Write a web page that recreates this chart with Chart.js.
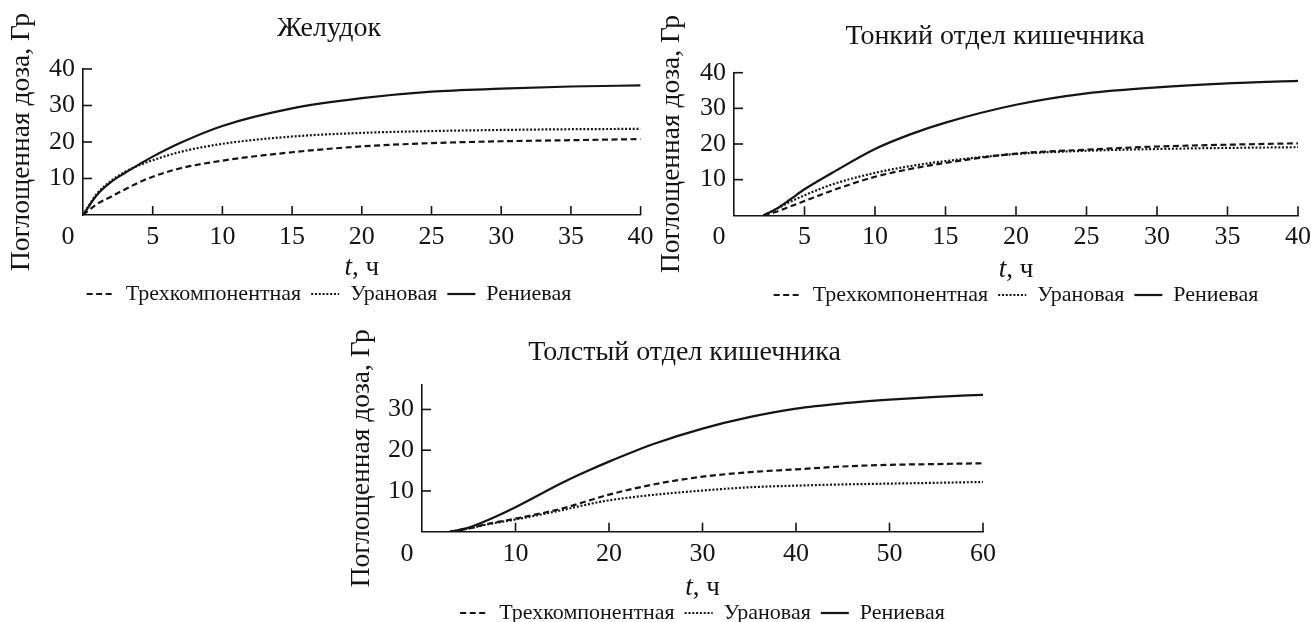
<!DOCTYPE html>
<html>
<head>
<meta charset="utf-8">
<script src="https://cdn.jsdelivr.net/npm/chart.js@4"></script>
<style>
  html, body { margin: 0; padding: 0; background: #fff; overflow: hidden; width: 1311px; height: 622px; }
  canvas { position: absolute; }
</style>
</head>
<body>
<canvas id="c1" width="660" height="320" style="left:0px;top:0px"></canvas>
<canvas id="c2" width="690" height="320" style="left:650px;top:0px"></canvas>
<canvas id="c3" width="700" height="330" style="left:340px;top:310px"></canvas>
<script>
// ---------- data ----------
const seriesNames = ['Трехкомпонентная', 'Урановая', 'Рениевая'];
const yAxisTitle = 'Поглощенная доза, Гр';

// Желудок
const stomachTitle = 'Желудок';
const stomachT   = [0, 1, 2, 3, 4, 5, 7, 10, 15, 20, 25, 30, 35, 40];
const stomachTri = [0, 3.0, 5.0, 7.0, 8.9, 10.5, 12.8, 14.9, 17.2, 18.8, 19.7, 20.2, 20.5, 20.8];
const stomachU   = [0, 5.8, 9.3, 11.8, 13.6, 15.0, 17.3, 19.5, 21.5, 22.5, 23.0, 23.3, 23.5, 23.6];
const stomachRe  = [0, 5.5, 9.0, 11.5, 13.8, 16.0, 19.8, 24.4, 29.2, 32.0, 33.8, 34.6, 35.2, 35.5];
const stomachXTicks = [0, 5, 10, 15, 20, 25, 30, 35, 40];
const stomachYTicks = [10, 20, 30, 40];

// Тонкий отдел кишечника
const smallTitle = 'Тонкий отдел кишечника';
const smallT   = [2.1, 3, 4, 5, 7, 10, 12.5, 15, 20, 25, 30, 35, 40];
const smallTri = [0, 1.0, 2.5, 4.0, 7.0, 10.8, 13.0, 14.7, 17.3, 18.4, 19.3, 19.8, 20.2];
const smallU   = [0, 1.8, 3.8, 5.6, 8.7, 11.9, 13.8, 15.2, 17.2, 18.1, 18.6, 18.9, 19.1];
const smallRe  = [0, 1.8, 4.5, 7.3, 12.0, 18.6, 22.7, 26.0, 31.0, 34.2, 35.9, 37.0, 37.7];
const smallXTicks = [0, 5, 10, 15, 20, 25, 30, 35, 40];
const smallYTicks = [10, 20, 30, 40];

// Толстый отдел кишечника
const largeTitle = 'Толстый отдел кишечника';
const largeT   = [3, 5, 7, 10, 15, 17.5, 20, 25, 30, 35, 40, 45, 50, 55, 60];
const largeTri = [0, 0.8, 1.9, 3.2, 5.7, 7.4, 9.1, 11.7, 13.5, 14.6, 15.3, 16.0, 16.4, 16.6, 16.8];
const largeU   = [0, 0.8, 1.8, 3.0, 5.3, 6.6, 7.7, 9.1, 10.1, 10.9, 11.3, 11.6, 11.8, 12.0, 12.2];
const largeRe  = [0, 1.0, 2.8, 6.0, 12.0, 14.7, 17.2, 21.7, 25.3, 28.1, 30.2, 31.5, 32.4, 33.1, 33.6];
const largeXTicks = [0, 10, 20, 30, 40, 50, 60];
const largeYTicks = [10, 20, 30];

// ---------- styling ----------
const FONT = "'Liberation Serif', 'Times New Roman', serif";
const INK = '#151515';
const TICK_FS = 26;

function pts(t, v) { return t.map((x, i) => ({ x: x, y: v[i] })); }

const decorPlugin = {
  id: 'decor',
  afterDraw(chart, args, opts) {
    const { ctx, chartArea } = chart;
    const xs = chart.scales.x, ys = chart.scales.y;
    ctx.save();
    ctx.strokeStyle = INK;
    ctx.lineWidth = 1.6;
    opts.xTicks.forEach(v => {
      if (v === 0) return;
      const px = xs.getPixelForValue(v);
      ctx.beginPath(); ctx.moveTo(px, chartArea.bottom); ctx.lineTo(px, chartArea.bottom - 9); ctx.stroke();
    });
    opts.yTicks.forEach(v => {
      const py = ys.getPixelForValue(v);
      ctx.beginPath(); ctx.moveTo(chartArea.left, py); ctx.lineTo(chartArea.left + 9, py); ctx.stroke();
    });
    ctx.fillStyle = INK;
    ctx.textBaseline = 'middle';
    ctx.textAlign = 'center';
    ctx.font = TICK_FS + 'px ' + FONT;
    ctx.fillText('0', xs.getPixelForValue(0) - 15, chartArea.bottom + 6.4 + TICK_FS * 0.6);
    // x axis title "t, ч" with italic t
    const cx = (chartArea.left + chartArea.right) / 2;
    const ty = chartArea.bottom + opts.xTitleOffset;
    ctx.textAlign = 'left';
    ctx.font = 'italic 27px ' + FONT;
    const w1 = ctx.measureText('t').width;
    ctx.font = '27px ' + FONT;
    const w2 = ctx.measureText(', ч').width;
    const x0 = cx - (w1 + w2) / 2;
    ctx.font = 'italic 27px ' + FONT;
    ctx.fillText('t', x0, ty);
    ctx.font = '27px ' + FONT;
    ctx.fillText(', ч', x0 + w1, ty);
    ctx.restore();
  }
};

function legendLabels(chart) {
  const items = Chart.defaults.plugins.legend.labels.generateLabels(chart);
  items.forEach(it => {
    const d = chart.data.datasets[it.datasetIndex];
    it.lineDash = d.borderDash;
    it.lineWidth = d.borderWidth;
    it.strokeStyle = d.borderColor;
    it.fillStyle = 'rgba(0,0,0,0)';
    it.pointStyle = 'line';
  });
  return items;
}

function makeChart(id, p) {
  const ds = [
    { label: seriesNames[0], data: pts(p.t, p.tri), borderDash: [6, 3.5] },
    { label: seriesNames[1], data: pts(p.t, p.u), borderDash: [2, 1.8] },
    { label: seriesNames[2], data: pts(p.t, p.re), borderDash: [] }
  ].map(d => Object.assign(d, {
    borderColor: INK, backgroundColor: 'rgba(0,0,0,0)', borderWidth: 2.2,
    pointRadius: 0, cubicInterpolationMode: 'monotone', fill: false
  }));
  return new Chart(document.getElementById(id), {
    type: 'line',
    data: { datasets: ds },
    plugins: [decorPlugin],
    options: {
      responsive: false, animation: false, devicePixelRatio: 1,
      layout: { padding: { left: p.padLeft, right: p.padRight, top: 0, bottom: p.padBottom } },
      plugins: {
        tooltip: { enabled: false },
        title: {
          display: true, text: p.title, color: INK,
          font: { family: FONT, size: 28, weight: 'normal' },
          padding: { top: p.titleTop, bottom: p.titleBottom }
        },
        legend: {
          display: true, position: 'bottom', fullSize: p.legendFull,
          labels: {
            color: INK, font: { family: FONT, size: 22 },
            usePointStyle: true, pointStyle: 'line', pointStyleWidth: 28,
            padding: 10, generateLabels: legendLabels
          }
        },
        decor: { xTicks: p.xTicks, yTicks: p.yTicks, xTitleOffset: p.xTitleOffset }
      },
      scales: {
        x: {
          type: 'linear', min: p.xTicks[0], max: p.xTicks[p.xTicks.length - 1],
          afterBuildTicks: (s) => { s.ticks = p.xTicks.map(v => ({ value: v })); },
          afterFit: (s) => { s.height = p.xHeight; },
          grid: { display: false, drawTicks: false },
          border: { display: true, color: INK, width: 1.6 },
          ticks: {
            color: INK, font: { family: FONT, size: TICK_FS }, padding: 6.4, maxRotation: 0,
            callback: (v) => v === 0 ? '' : String(v)
          },
          title: { display: false }
        },
        y: {
          type: 'linear', min: 0, max: p.yMax,
          afterBuildTicks: (s) => { s.ticks = [0].concat(p.yTicks).map(v => ({ value: v })); },
          afterFit: (s) => { s.width = p.yWidth; },
          grid: { display: false, drawTicks: false },
          border: { display: true, color: INK, width: 1.6 },
          ticks: {
            color: INK, font: { family: FONT, size: TICK_FS }, padding: 8,
            callback: (v) => v === 0 ? '' : String(v)
          },
          title: {
            display: true, text: yAxisTitle, color: INK,
            font: { family: FONT, size: 27.5 }, padding: p.yTitlePad
          }
        }
      }
    }
  });
}

makeChart('c1', {
  title: stomachTitle, t: stomachT, tri: stomachTri, u: stomachU, re: stomachRe,
  xTicks: stomachXTicks, yTicks: stomachYTicks, yMax: 40,
  padLeft: 15, padRight: 17, padBottom: 5, titleTop: 12.2, titleBottom: 23.2,
  xHeight: 58, yWidth: 68, yTitlePad: -9.5, legendFull: true, xTitleOffset: 53
});
makeChart('c2', {
  title: smallTitle, t: smallT, tri: smallTri, u: smallU, re: smallRe,
  xTicks: smallXTicks, yTicks: smallYTicks, yMax: 40,
  padLeft: 42, padRight: 42, padBottom: 4, titleTop: 19.9, titleBottom: 19.2,
  xHeight: 58.7, yWidth: 42, yTitlePad: -36.5, legendFull: false, xTitleOffset: 55
});
makeChart('c3', {
  title: largeTitle, t: largeT, tri: largeTri, u: largeU, re: largeRe,
  xTicks: largeXTicks, yTicks: largeYTicks, yMax: 36,
  padLeft: 46, padRight: 57, padBottom: 6, titleTop: 25.7, titleBottom: 15.7,
  xHeight: 60.3, yWidth: 36, yTitlePad: -40.8, legendFull: false, xTitleOffset: 56
});
</script>
</body>
</html>
